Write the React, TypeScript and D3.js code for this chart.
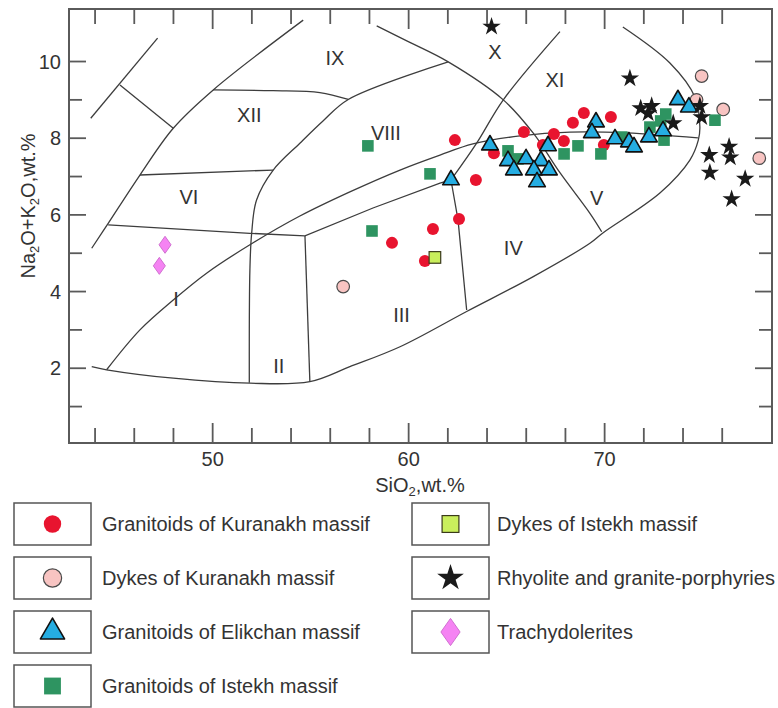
import React from "react";
import * as d3 from "d3";

// ---------- data (SiO2 wt.%, Na2O+K2O wt.%) ----------
const kuranakhGranitoids: [number, number][] = [
  [62.36, 7.95], [64.35, 7.61], [63.43, 6.91], [65.88, 8.16], [66.85, 7.82],
  [67.41, 8.11], [67.92, 7.93], [68.38, 8.4], [68.94, 8.66], [70.32, 8.55],
  [69.96, 7.82], [62.57, 5.89], [61.24, 5.63], [59.15, 5.27], [60.83, 4.8],
];
const kuranakhDykes: [number, number][] = [
  [56.66, 4.13], [74.95, 9.62], [74.69, 9.0], [76.05, 8.75], [77.89, 7.48],
];
const elikchanGranitoids: [number, number][] = [
  [64.15, 7.82], [67.11, 7.8], [62.16, 6.91], [65.07, 7.41], [65.99, 7.46],
  [66.75, 7.41], [65.37, 7.17], [66.39, 7.17], [67.16, 7.17], [66.55, 6.86],
  [69.56, 8.42], [69.35, 8.14], [70.53, 7.98], [71.24, 7.9], [71.5, 7.77],
  [72.26, 8.03], [72.98, 8.19], [73.74, 9.0], [74.3, 8.81],
];
const istekhGranitoids: [number, number][] = [
  [57.92, 7.8], [61.09, 7.07], [58.13, 5.58], [65.07, 7.67], [65.58, 7.46],
  [67.93, 7.59], [68.64, 7.8], [69.81, 7.59], [70.88, 8.03], [72.31, 8.29],
  [72.86, 8.45], [73.12, 8.63], [73.03, 7.95], [75.63, 8.47],
];
const istekhDykes: [number, number][] = [[61.34, 4.89]];
const rhyolites: [number, number][] = [
  [64.23, 10.91], [71.29, 9.56], [71.84, 8.78], [72.4, 8.84], [72.22, 8.65],
  [73.5, 8.39], [74.86, 8.84], [74.95, 8.55], [75.34, 7.56], [75.37, 7.1],
  [76.35, 7.78], [76.41, 7.5], [77.17, 6.94], [76.48, 6.41],
];
const trachydolerites: [number, number][] = [[47.57, 5.22], [47.28, 4.67]];

// ---------- classification boundaries ----------
const lineA: [number, number][] = [[43.78, 8.52], [47.19, 10.61]];
const lineB: [number, number][] = [[45.27, 9.39], [47.99, 8.26]];
const lineC: [number, number][] = [
  [43.83, 5.13], [44.67, 5.78], [46.29, 7.04], [47.99, 8.26], [50.03, 9.26], [54.62, 11.08],
];
const lineD: [number, number][] = [[50.03, 9.26], [53.08, 9.24], [55.47, 9.19], [56.92, 9.01]];
const lineE: [number, number][] = [[46.29, 7.04], [53.09, 7.17]];
const lineF: [number, number][] = [
  [51.87, 1.62], [51.9, 4.56], [51.99, 5.52], [52.24, 6.39], [53.09, 7.17],
  [54.45, 7.87], [55.63, 8.45], [56.92, 9.01], [62.02, 9.99],
];
const lineG: [number, number][] = [
  [58.37, 10.93], [60.06, 10.5], [62.02, 9.99], [64.83, 9.0], [66.36, 8.13],
  [67.72, 7.1], [69.25, 6.04], [69.85, 5.56],
];
const lineHUpper: [number, number][] = [[67.72, 10.78], [64.83, 9.0], [63.47, 7.87], [62.16, 6.91]];
const lineHLower: [number, number][] = [[62.16, 6.91], [62.52, 5.87], [62.96, 3.52]];
const lineI: [number, number][] = [
  [44.67, 5.74], [51.9, 5.52], [54.71, 5.45], [58.18, 6.18], [61.6, 6.83], [62.16, 6.91],
];
const lineJ: [number, number][] = [
  [44.59, 1.96], [46.29, 3.0], [47.99, 3.78], [49.69, 4.48], [51.9, 5.22], [54.45, 5.97],
  [57.0, 6.6], [59.56, 7.17], [61.6, 7.56], [63.28, 7.85], [65.68, 8.06], [68.23, 8.16],
  [71.14, 8.14], [74.76, 8.01],
];
const lineK: [number, number][] = [
  [43.83, 2.04], [44.59, 1.96], [47.99, 1.74], [51.9, 1.61], [54.96, 1.65], [57.0, 2.04],
  [59.56, 2.56], [62.96, 3.48], [66.36, 4.39], [69.25, 5.26], [69.91, 5.53], [72.82, 6.57],
  [74.35, 7.43], [74.78, 7.95], [74.86, 8.29], [74.61, 9.07], [73.33, 9.96], [70.93, 10.9],
];
const lineM: [number, number][] = [[54.71, 5.45], [54.96, 1.65]];

const curvedLines = [lineC, lineD, lineF, lineG, lineHUpper, lineJ, lineK];
const straightLines = [lineA, lineB, lineE, lineHLower, lineI, lineM];

const fieldLabels = ["I", "II", "III", "IV", "V", "VI", "VIII", "IX", "X", "XI", "XII"];
const fieldLabelAt: [number, number][] = [
  [48.13, 3.8], [53.37, 2.06], [59.64, 3.39], [65.34, 5.13], [69.59, 6.44], [48.79, 6.47],
  [58.84, 8.14], [56.24, 10.09], [64.4, 10.25], [67.46, 9.52], [51.87, 8.6],
];

const xTicks = d3.range(44, 77, 2);
const xTickLabels = [50, 60, 70];
const yTicks = d3.range(1, 11, 1);
const yTickLabels = [2, 4, 6, 8, 10];

const legendNames = [
  "Granitoids of Kuranakh massif",
  "Dykes of Kuranakh massif",
  "Granitoids of Elikchan massif",
  "Granitoids of Istekh massif",
  "Dykes of Istekh massif",
  "Rhyolite and granite-porphyries",
  "Trachydolerites",
];

const FONT = "'Liberation Sans', Arial, sans-serif";
const TXT = "#333";
const LINE = "#3d3d3d";

type Kind = "redCircle" | "pinkCircle" | "triangle" | "greenSquare" | "limeSquare" | "star" | "diamond";
const kinds: Kind[] = ["redCircle", "pinkCircle", "triangle", "greenSquare", "limeSquare", "star", "diamond"];

function diamondPath(w: number, h: number) {
  return `M0,${-h / 2}L${w / 2},0L0,${h / 2}L${-w / 2},0Z`;
}

function Marker({ kind, cx, cy, k = 1 }: { kind: Kind; cx: number; cy: number; k?: number }) {
  const t = `translate(${cx},${cy})`;
  switch (kind) {
    case "redCircle":
      return <circle cx={cx} cy={cy} r={6 * k} fill="#e8142f" />;
    case "pinkCircle":
      return <circle cx={cx} cy={cy} r={6.3 * k} fill="#f8c4c2" stroke="#4a4a4a" strokeWidth={1.2} />;
    case "triangle":
      return (
        <path transform={t} d={d3.symbol().type(d3.symbolTriangle).size(120 * k * k)()!}
          fill="#25ade2" stroke="#111" strokeWidth={1.6} strokeLinejoin="round" />
      );
    case "greenSquare":
      return <rect x={cx - 5.8 * k} y={cy - 5.8 * k} width={11.6 * k} height={11.6 * k} fill="#2e9461" />;
    case "limeSquare":
      return <rect x={cx - 5.8 * k} y={cy - 5.8 * k} width={11.6 * k} height={11.6 * k} fill="#c9ee5c" stroke="#3a3a1a" strokeWidth={1.2} />;
    case "star":
      return <path transform={t} d={d3.symbol().type(d3.symbolStar).size(105 * k * k)()!} fill="#1a1a1a" />;
    case "diamond":
      return <path transform={t} d={diamondPath(12 * k, 17 * k)} fill="#f583f3" stroke="#d070d0" strokeWidth={1} />;
  }
}

export default function App() {
  const left = 69, right = 772, top = 9, bottom = 443;
  const x = d3.scaleLinear().domain([42.67, 78.54]).range([left, right]);
  const y = d3.scaleLinear().domain([0.05, 11.37]).range([bottom, top]);
  const curved = d3.line<[number, number]>().x((d) => x(d[0])).y((d) => y(d[1])).curve(d3.curveCatmullRom.alpha(0.5));
  const straight = d3.line<[number, number]>().x((d) => x(d[0])).y((d) => y(d[1]));

  const series: [Kind, [number, number][]][] = [
    ["redCircle", kuranakhGranitoids],
    ["pinkCircle", kuranakhDykes],
    ["greenSquare", istekhGranitoids],
    ["triangle", elikchanGranitoids],
    ["limeSquare", istekhDykes],
    ["star", rhyolites],
    ["diamond", trachydolerites],
  ];

  const legendRowsY = [524, 578, 632, 686];
  const legendCols = [{ bx: 14, tx: 102 }, { bx: 412, tx: 497 }];
  const boxW = 77, boxH = 42;

  return (
    <svg width={778} height={708} style={{ position: "absolute", left: 0, top: 0, background: "#fff" }}
      fontFamily={FONT}>
      <rect x={0} y={0} width={778} height={708} fill="#fff" />
      {/* boundaries */}
      <g fill="none" stroke={LINE} strokeWidth={1.3}>
        {curvedLines.map((l, i) => <path key={"c" + i} d={curved(l)!} />)}
        {straightLines.map((l, i) => <path key={"s" + i} d={straight(l)!} />)}
      </g>
      {/* field labels */}
      <g fontSize={20} fill={TXT} textAnchor="middle">
        {fieldLabels.map((lab, i) => (
          <text key={lab} x={x(fieldLabelAt[i][0])} y={y(fieldLabelAt[i][1])} dy="0.36em">{lab}</text>
        ))}
      </g>
      {/* points */}
      <g>
        {series.map(([kind, pts]) =>
          pts.map((p, i) => <Marker key={kind + i} kind={kind} cx={x(p[0])} cy={y(p[1])} />)
        )}
      </g>
      {/* frame */}
      <rect x={left} y={top} width={right - left} height={bottom - top} fill="none" stroke="#5a5a5a" strokeWidth={2} />
      {/* ticks */}
      <g stroke="#5a5a5a" strokeWidth={1.8}>
        {xTicks.map((t) => {
          const len = t % 10 === 0 ? 20 : 15;
          return (
            <g key={"xt" + t}>
              <line x1={x(t)} x2={x(t)} y1={bottom} y2={bottom - len} />
              <line x1={x(t)} x2={x(t)} y1={top} y2={top + len} />
            </g>
          );
        })}
        {yTicks.map((t) => {
          const len = t % 2 === 0 ? 17 : 13;
          return (
            <g key={"yt" + t}>
              <line x1={left} x2={left + len} y1={y(t)} y2={y(t)} />
              <line x1={right} x2={right - len} y1={y(t)} y2={y(t)} />
            </g>
          );
        })}
      </g>
      <g fontSize={20} fill={TXT}>
        {xTickLabels.map((t) => (
          <text key={"xl" + t} x={x(t)} y={bottom + 23} textAnchor="middle">{t}</text>
        ))}
        {yTickLabels.map((t) => (
          <text key={"yl" + t} x={61} y={y(t)} dy="0.36em" textAnchor="end">{t}</text>
        ))}
        <text x={420} y={492} textAnchor="middle">
          SiO<tspan fontSize={13} dy={4}>2</tspan><tspan dy={-4}>,wt.%</tspan>
        </text>
        <text transform="translate(35,206) rotate(-90)" textAnchor="middle">
          Na<tspan fontSize={13} dy={4}>2</tspan><tspan dy={-4}>O+K</tspan><tspan fontSize={13} dy={4}>2</tspan><tspan dy={-4}>O,wt.%</tspan>
        </text>
      </g>
      {/* legend */}
      <g>
        {legendNames.map((name, i) => {
          const col = i < 4 ? 0 : 1;
          const row = i < 4 ? i : i - 4;
          const cy = legendRowsY[row];
          const { bx, tx } = legendCols[col];
          return (
            <g key={name}>
              <rect x={bx} y={cy - boxH / 2} width={boxW} height={boxH} fill="#fff" stroke="#555" strokeWidth={1.5} />
              <Marker kind={kinds[i]} cx={bx + boxW / 2} cy={cy} k={kinds[i] === "diamond" ? 1.6 : 1.45} />
              <text x={tx} y={cy} dy="0.36em" fontSize={20} fill={TXT}>{name}</text>
            </g>
          );
        })}
      </g>
    </svg>
  );
}
